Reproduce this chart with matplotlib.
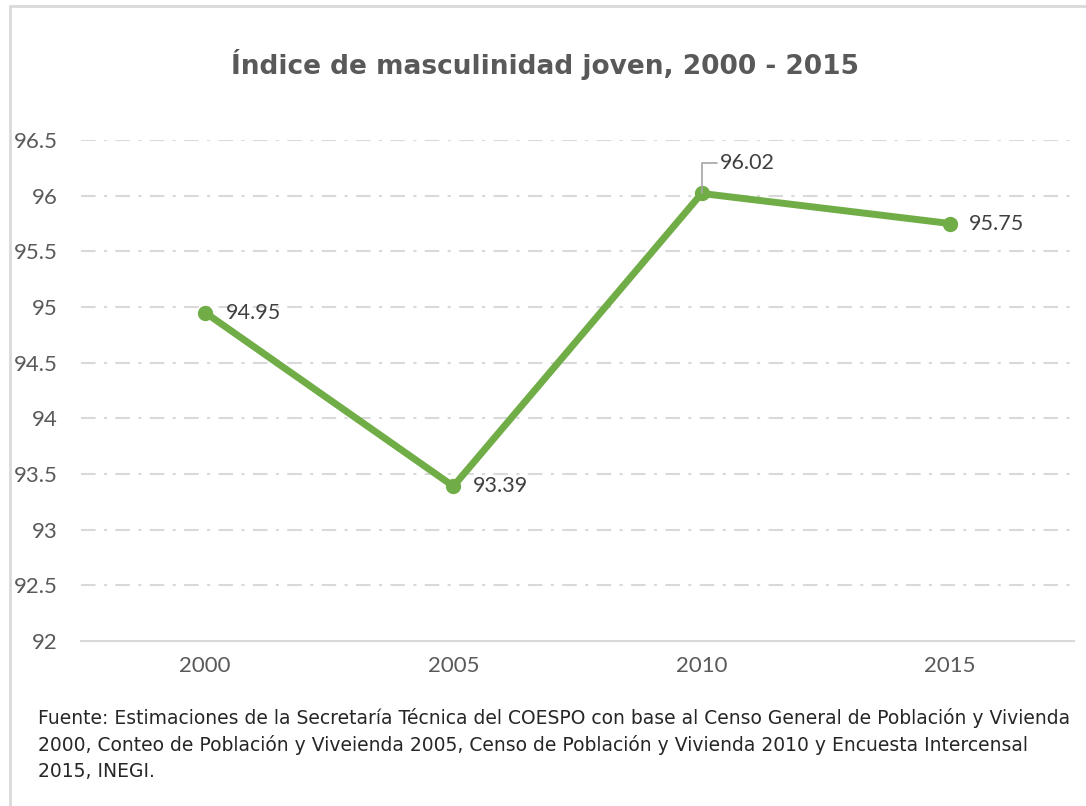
import matplotlib
matplotlib.use("Agg")
import matplotlib.pyplot as plt
from matplotlib.patches import Rectangle
from matplotlib import font_manager

years = ["2000", "2005", "2010", "2015"]
values = [94.95, 93.39, 96.02, 95.75]
yticks = [92, 92.5, 93, 93.5, 94, 94.5, 95, 95.5, 96, 96.5]
ytick_labels = ["92", "92.5", "93", "93.5", "94", "94.5", "95", "95.5", "96", "96.5"]
title = "Índice de masculinidad joven, 2000 - 2015"
source = ("Fuente: Estimaciones de la Secretaría Técnica del COESPO con base al Censo General de Población y Vivienda\n"
          "2000, Conteo de Población y Viveienda 2005, Censo de Población y Vivienda 2010 y Encuesta Intercensal\n"
          "2015, INEGI.")

names = {f.name for f in font_manager.fontManager.ttflist}
base = "Lato" if "Lato" in names else "DejaVu Sans"

W, H = 1086, 806
fig = plt.figure(figsize=(W / 100, H / 100), dpi=100)
fig.patch.set_facecolor("white")
fig.add_artist(Rectangle((10 / W, -0.1), 1.2, 1 - 6 / H + 0.1, transform=fig.transFigure,
                         fill=False, edgecolor="#D9D9D9", linewidth=2))

ax = fig.add_axes([81 / W, 1 - 641 / H, (1074 - 81) / W, (641 - 140) / H])
x = list(range(len(years)))
green = "#70AD47"
ax.plot(x, values, color=green, linewidth=5, marker="o", markersize=10, solid_capstyle="round", zorder=3)

ax.set_xlim(-0.5, len(years) - 0.5)
ax.set_ylim(92, 96.5)
ax.set_yticks(yticks)
ax.set_yticklabels(ytick_labels)
ax.set_xticks(x)
ax.set_xticklabels(years)
for s in ["top", "right", "left"]:
    ax.spines[s].set_visible(False)
ax.spines["bottom"].set_color("#D9D9D9")
ax.spines["bottom"].set_linewidth(1.5)
ax.tick_params(axis="both", length=0, labelsize=16, labelcolor="#595959")
ax.tick_params(axis="y", pad=17)
ax.tick_params(axis="x", pad=11)
for lab in ax.get_xticklabels() + ax.get_yticklabels():
    lab.set_fontfamily(base)
for yv in yticks[1:]:
    ax.axhline(yv, color="#D9D9D9", linewidth=1.5, linestyle=(0, (7, 4, 1.5, 4)), zorder=1)

lab_kw = dict(fontsize=15.5, color="#404040", fontfamily=base, va="center")
ax.annotate(f"{values[0]:.2f}", (x[0], values[0]), xytext=(15, 0), textcoords="offset points", ha="left", **lab_kw)
ax.annotate(f"{values[1]:.2f}", (x[1], values[1]), xytext=(14, 0), textcoords="offset points", ha="left", **lab_kw)
ax.annotate(f"{values[2]:.2f}", (x[2], values[2]), xytext=(13, 22), textcoords="offset points", ha="left",
            arrowprops=dict(arrowstyle="-", color="#A6A6A6", linewidth=1.2,
                            connectionstyle="angle,angleA=0,angleB=90,rad=0",
                            shrinkA=0, shrinkB=0), **lab_kw)
ax.annotate(f"{values[3]:.2f}", (x[3], values[3]), xytext=(14, 0), textcoords="offset points", ha="left", **lab_kw)

fig.text(545 / W, 1 - 65 / H, title, ha="center", va="center", fontsize=19, fontweight="bold",
         color="#595959", fontfamily="DejaVu Sans")
fig.text(38 / W, 1 - 708 / H, source, ha="left", va="top", fontsize=13.5, color="#262626",
         fontfamily="DejaVu Sans", linespacing=1.45)

fig.savefig("out.png", dpi=100, facecolor="white")
